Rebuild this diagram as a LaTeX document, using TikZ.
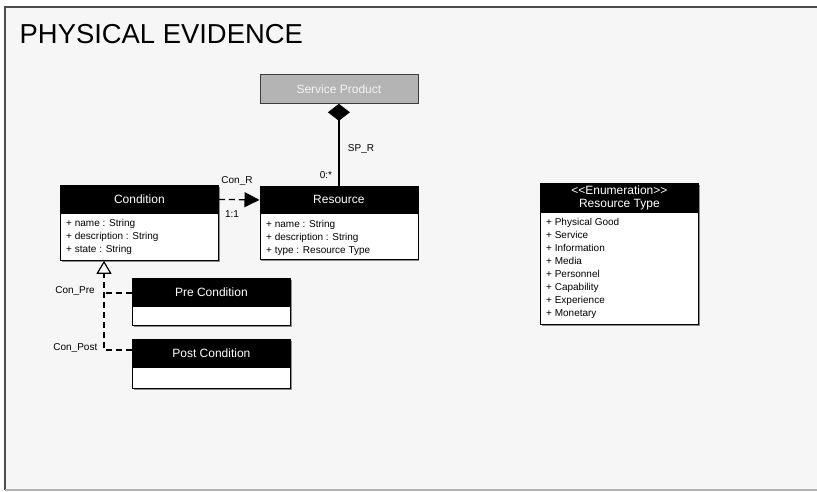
\documentclass[tikz,border=0pt]{standalone}
\usepackage{fontspec}
\setmainfont{Liberation Sans}
\usetikzlibrary{arrows.meta,shadows}
\definecolor{pagebg}{HTML}{F6F6F6}
\definecolor{spfill}{HTML}{B4B4B4}
\definecolor{spline}{HTML}{3C3C3C}
\definecolor{sptext}{HTML}{F4F4F4}
\begin{document}
\begin{tikzpicture}[x=1pt,y=-1pt,
  boxshadow/.style={drop shadow={shadow xshift=1.2pt,shadow yshift=-1.2pt,fill=black!45,opacity=1}},
  hdr/.style={draw=black, fill=black, text=white, line width=0.8pt,
    font=\fontsize{12}{12.5}\selectfont, anchor=north west, inner sep=0pt,
    minimum width=158pt, align=center, boxshadow},
  body/.style={draw=black, fill=white, line width=0.8pt, anchor=north west,
    inner sep=0pt, minimum width=158pt, boxshadow},
  attr/.style={anchor=base west, inner sep=0pt, font=\fontsize{10}{12}\selectfont},
  lbl/.style={inner sep=0pt, font=\fontsize{10}{12}\selectfont},
  conn/.style={draw=black, line width=1.3pt},
  dashconn/.style={conn, dash pattern=on 6pt off 4pt},
]
\useasboundingbox (0,0) rectangle (817,491);

% page frame
\fill[pagebg] (5,7) rectangle (817,490);
\draw[black!70, line width=1.2pt] (5,490) -- (5,7) -- (817,7);
\draw[black!30, line width=1.2pt] (5,490) -- (817,490);

% title
\node[anchor=base west, inner sep=0pt, font=\fontsize{27.4}{30}\selectfont] (title) at (19.5,43) {PHYSICAL EVIDENCE};

% Service Product
\node[draw=spline, fill=spfill, text=sptext, line width=0.8pt, anchor=north west,
  inner sep=0pt, minimum width=158pt, minimum height=29pt,
  font=\fontsize{12}{12.5}\selectfont] (sp) at (259.5,74) {Service Product};

% Resource
\node[hdr, minimum height=27pt] (resH) at (259.5,186) {Resource};
\node[body, minimum height=46pt] (resB) at (259.5,213) {};
\node[attr] (resA1) at (266,227) {+ name : String};
\node[attr] (resA2) at (266,240) {+ description : String};
\node[attr] (resA3) at (266,253) {+ type : Resource Type};

% Condition
\node[hdr, minimum height=28pt] (condH) at (60,185) {Condition};
\node[body, minimum height=47pt] (condB) at (60,213) {};
\node[attr] (condA1) at (66,226.5) {+ name : String};
\node[attr] (condA2) at (66,239.5) {+ description : String};
\node[attr] (condA3) at (66,252.5) {+ state : String};

% Pre / Post Condition
\node[hdr, minimum height=28pt] (preH) at (132,278) {Pre Condition};
\node[body, minimum height=19pt] (preB) at (132,306) {};
\node[hdr, minimum height=28pt] (postH) at (132,339) {Post Condition};
\node[body, minimum height=21pt] (postB) at (132,367) {};

% Resource Type enumeration
\node[hdr, minimum height=29pt] (rtH) at (540,183) {<\kern0pt<Enumeration>\kern0pt>\\Resource Type};
\node[body, minimum height=112pt] (rtB) at (540,212) {};
\foreach \t [count=\i from 0] in {Physical Good,Service,Information,Media,Personnel,Capability,Experience,Monetary}
  \node[attr] (rtA\i) at (546,225.5+13*\i) {+ \t};

% composition Service Product -- Resource
\draw[conn, {Diamond[length=17pt,width=22pt]}-] (sp.south -| resH.north) -- (resH.north);
\node[lbl] (spr) at (361,149) {SP\_R};
\node[lbl] (spm) at (326,175) {0:*};

% dependency Condition -> Resource
\draw[dashconn, -{Triangle[length=15pt,width=15pt]}] (condH.east) -- (resH.west);
\node[lbl] (conr) at (237,181) {Con\_R};
\node[lbl] (conrm) at (232,214) {1:1};

% generalization Pre/Post -> Condition
\coordinate (genpt) at ([xshift=44pt]condB.south west);
\draw[dashconn, -{Triangle[open, fill=white, length=13pt, width=15pt, line width=1.2pt]}] (postH.west |- 0,350) -| (genpt);
\draw[dashconn] (preH.west |- 0,293) -- (genpt |- 0,293);
\node[lbl, anchor=east] (conpre) at (95,291) {Con\_Pre};
\node[lbl, anchor=east] (conpost) at (97.5,347.5) {Con\_Post};
\end{tikzpicture}
\end{document}
